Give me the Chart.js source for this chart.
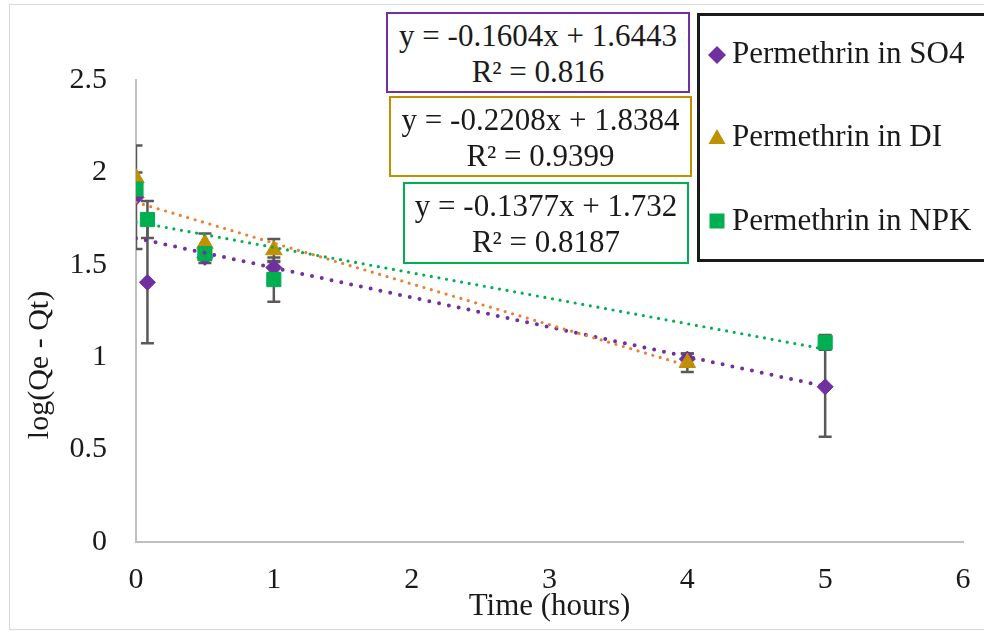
<!DOCTYPE html>
<html>
<head>
<meta charset="utf-8">
<script src="https://cdn.jsdelivr.net/npm/chart.js@4.4.1/dist/chart.umd.min.js"></script>
<style>
  body { margin: 0; background: #fff; }
  #wrap { position: relative; width: 984px; height: 631px; overflow: hidden; background: #fff;
          font-family: "Liberation Serif", "Times New Roman", serif; color: #1a1a1a; }
  #chart { position: absolute; left: 0; top: 0; }
  .frame { position: absolute; left: 9px; top: 4px; width: 980px; height: 626px;
           border: 1px solid #d9d9d9; box-sizing: border-box; pointer-events: none; }
  .eq { position: absolute; box-sizing: border-box; background: #fff; border: 2px solid;
        text-align: center; font-size: 31px; line-height: 36px; padding-top: 4px; white-space: nowrap; }
  .legend { position: absolute; left: 697px; top: 13px; width: 300px; height: 249px;
            border: 3px solid #1a1a1a; box-sizing: border-box; background: #fff; }
  .item { position: absolute; left: 732px; font-size: 31px; line-height: 36px; white-space: nowrap; }
  .mark { position: absolute; }
  .ytitle { position: absolute; left: 38px; top: 365px; font-size: 30px; white-space: nowrap;
            transform: translate(-50%, -50%) rotate(-90deg); }
</style>
</head>
<body>
<div id="wrap">
  <canvas id="chart" width="984" height="631"></canvas>
  <div class="frame"></div>
  <div class="ytitle">log(Qe - Qt)</div>
  <div id="eqs"></div>
  <div class="legend"></div>
  <div id="leg"></div>
</div>
<script>
const seriesNames = ['Permethrin in SO4', 'Permethrin in DI', 'Permethrin in NPK'];
const colors = ['#7030A0', '#BF9000', '#00B050'];
const trendColors = ['#7030A0', '#ED7D31', '#00B050'];

const timeSO4 = [0, 0.083, 0.5, 1, 4, 5];
const valSO4 = [1.865, 1.405, 1.54, 1.485, 0.99, 0.84];
const errSO4 = [0.28, 0.33, 0.03, 0.03, 0.03, 0.27];

const timeDI = [0, 0.5, 1, 4];
const valDI = [1.97, 1.615, 1.58, 0.97];
const errDI = [0.03, 0.055, 0.06, 0.05];

const timeNPK = [0, 0.083, 0.5, 1, 5];
const valNPK = [1.91, 1.745, 1.56, 1.42, 1.08];
const errNPK = [0.03, 0.1, 0.03, 0.12, 0.04];

const slopes = [-0.1604, -0.2208, -0.1377];
const intercepts = [1.6443, 1.8384, 1.732];
const r2 = ['0.816', '0.9399', '0.8187'];

const xTicks = [0, 1, 2, 3, 4, 5, 6];
const yTicks = [0, 0.5, 1, 1.5, 2, 2.5];

const times = [timeSO4, timeDI, timeNPK];
const vals = [valSO4, valDI, valNPK];
const errs = [errSO4, errDI, errNPK];
const shapes = ['rectRot', 'triangle', 'rect'];
const radii = [8, 9.5, 10];
const dotW = [4, 3.2, 3.2];
const dotGap = [10, 7.7, 7.7];

const datasets = [];
for (let i = 0; i < 3; i++) {
  datasets.push({
    label: seriesNames[i],
    data: times[i].map((t, j) => ({ x: t, y: vals[i][j] })),
    err: errs[i],
    pointStyle: shapes[i],
    pointRadius: radii[i],
    backgroundColor: colors[i],
    borderColor: colors[i],
    borderWidth: 1,
    showLine: false,
    order: 3 - i
  });
}
for (let i = 0; i < 3; i++) {
  const xMax = Math.max(...times[i]);
  datasets.push({
    label: 'trend' + i,
    data: [{ x: 0, y: intercepts[i] }, { x: xMax, y: slopes[i] * xMax + intercepts[i] }],
    showLine: true,
    pointRadius: 0,
    borderColor: trendColors[i],
    borderWidth: dotW[i],
    borderDash: [0, dotGap[i]],
    borderCapStyle: 'round',
    fill: false,
    order: -1 - i
  });
}

const errorBars = {
  id: 'errorBars',
  beforeDatasetsDraw(chart) {
    const { ctx, chartArea, scales: { x, y } } = chart;
    ctx.save();
    ctx.beginPath();
    ctx.rect(chartArea.left, chartArea.top, chartArea.right - chartArea.left, chartArea.bottom - chartArea.top);
    ctx.clip();
    ctx.strokeStyle = '#595959';
    ctx.lineWidth = 2.5;
    chart.data.datasets.forEach(ds => {
      if (!ds.err) return;
      ds.data.forEach((p, j) => {
        const px = x.getPixelForValue(p.x);
        const top = y.getPixelForValue(p.y + ds.err[j]);
        const bot = y.getPixelForValue(p.y - ds.err[j]);
        ctx.beginPath();
        ctx.moveTo(px, top); ctx.lineTo(px, bot);
        ctx.moveTo(px - 6.5, top); ctx.lineTo(px + 6.5, top);
        ctx.moveTo(px - 6.5, bot); ctx.lineTo(px + 6.5, bot);
        ctx.stroke();
      });
    });
    ctx.restore();
  }
};

const tickFont = { family: 'Liberation Serif', size: 30 };

new Chart(document.getElementById('chart').getContext('2d'), {
  type: 'scatter',
  data: { datasets: datasets },
  options: {
    responsive: false,
    animation: false,
    layout: { padding: { top: 80, right: 21, left: 0, bottom: 0 } },
    plugins: { legend: { display: false }, tooltip: { enabled: false } },
    scales: {
      x: {
        type: 'linear', min: 0, max: 6,
        afterBuildTicks: s => { s.ticks = xTicks.map(v => ({ value: v })); },
        afterFit: s => { s.height = 89; s.paddingLeft = 0; s.paddingRight = 0; },
        grid: { display: false, drawTicks: false },
        border: { display: true, color: '#BFBFBF', width: 2 },
        ticks: { font: tickFont, color: '#1a1a1a', padding: 20, callback: v => String(v) },
        title: { display: true, text: 'Time (hours)', font: { family: 'Liberation Serif', size: 31 },
                 color: '#1a1a1a', padding: { top: 0, bottom: 6 } }
      },
      y: {
        type: 'linear', min: 0, max: 2.5,
        afterBuildTicks: s => { s.ticks = yTicks.map(v => ({ value: v })); },
        afterFit: s => { s.width = 136; s.paddingTop = 0; s.paddingBottom = 0; },
        grid: { display: false, drawTicks: false },
        border: { display: true, color: '#BFBFBF', width: 2 },
        ticks: { font: tickFont, color: '#1a1a1a', padding: 29, callback: v => String(v) }
      }
    }
  },
  plugins: [errorBars]
});

// trendline equation boxes
const eqBoxes = [
  { left: 386, top: 12, w: 304, h: 81 },
  { left: 389, top: 96, w: 303, h: 81 },
  { left: 403, top: 182, w: 286, h: 82 }
];
const eqs = document.getElementById('eqs');
eqBoxes.forEach((b, i) => {
  const d = document.createElement('div');
  d.className = 'eq';
  d.style.left = b.left + 'px';
  d.style.top = b.top + 'px';
  d.style.width = b.w + 'px';
  d.style.height = b.h + 'px';
  d.style.borderColor = colors[i];
  d.innerHTML = 'y = ' + slopes[i] + 'x + ' + intercepts[i] + '<br>R\u00B2 = ' + r2[i];
  eqs.appendChild(d);
});

// legend
const legTops = [35, 118, 202];
const markCy = [55, 137, 221];
const markSvg = [
  '<polygon points="9,0 18,9 9,18 0,9" fill="#7030A0"/>',
  '<polygon points="9,1 17.5,16 0.5,16" fill="#BF9000"/>',
  '<rect x="1.5" y="1.5" width="15" height="15" fill="#00B050"/>'
];
const leg = document.getElementById('leg');
seriesNames.forEach((name, i) => {
  const m = document.createElement('div');
  m.className = 'mark';
  m.style.left = (717 - 9) + 'px';
  m.style.top = (markCy[i] - 9) + 'px';
  m.innerHTML = '<svg width="18" height="18">' + markSvg[i] + '</svg>';
  leg.appendChild(m);
  const t = document.createElement('div');
  t.className = 'item';
  t.style.top = legTops[i] + 'px';
  t.textContent = name;
  leg.appendChild(t);
});
</script>
</body>
</html>
